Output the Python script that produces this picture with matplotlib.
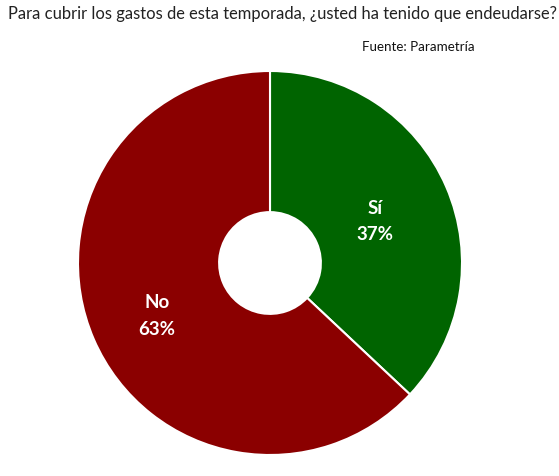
import matplotlib
matplotlib.use("Agg")
import matplotlib.pyplot as plt

title = "Para cubrir los gastos de esta temporada, ¿usted ha tenido que endeudarse?"
source = "Fuente: Parametría"
categories = ["Sí", "No"]
values = [37, 63]
colors = ["#006400", "#8B0000"]

W, H = 559, 476
fig = plt.figure(figsize=(W / 100, H / 100), dpi=100)
fig.patch.set_facecolor("white")

cx, cy, r = 270, 263, 192
ax = fig.add_axes([(cx - r) / W, (H - cy - r) / H, 2 * r / W, 2 * r / H])

wedges, texts = ax.pie(
    values,
    colors=colors,
    startangle=90,
    counterclock=False,
    radius=1,
    labels=[f"{c}\n{v}%" for c, v in zip(categories, values)],
    labeldistance=0.62,
    wedgeprops=dict(width=0.735, edgecolor="white", linewidth=1.5),
    textprops=dict(color="white", fontsize=13.5, fontweight="bold",
                   family=["Lato", "DejaVu Sans"], ha="center", va="center",
                   linespacing=1.65),
)
for t in texts:
    t.set_ha("center")
    t.set_va("center")
    x, y = t.get_position()
    t.set_position((x - 0.02, y - 0.03))
ax.set_xlim(-1, 1)
ax.set_ylim(-1, 1)
ax.set_aspect("equal")
ax.axis("off")

fig.text(8 / W, 1 - 14 / H, title, fontsize=11.9, color="#222222",
         family=["Lato", "DejaVu Sans"], ha="left", va="center")
fig.text(362 / W, 1 - 47 / H, source, fontsize=9.6, color="#111111",
         family=["Lato", "DejaVu Sans"], ha="left", va="center")

fig.savefig("out.png", dpi=100, facecolor="white")
